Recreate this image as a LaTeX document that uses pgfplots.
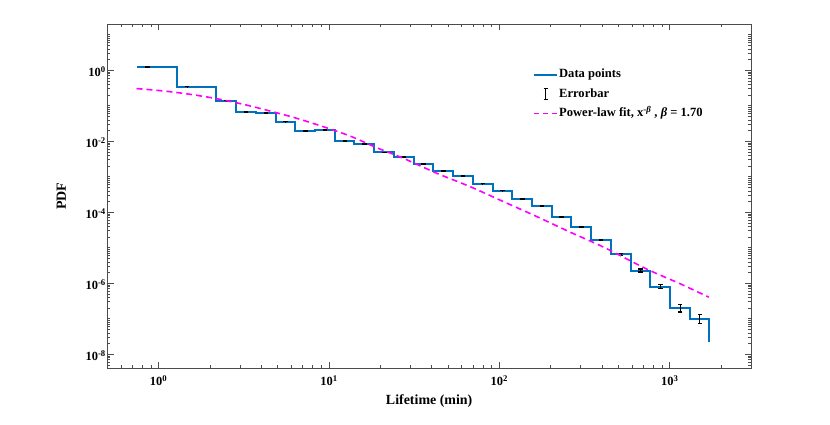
\documentclass[border=0pt]{standalone}
\usepackage{fontspec}
\setmainfont{Liberation Serif}
\usepackage{pgfplots}
\pgfplotsset{compat=1.18}
\definecolor{mblue}{rgb}{0,0.447,0.741}
\definecolor{mmag}{rgb}{1,0,1}
\definecolor{axgray}{rgb}{0.3,0.3,0.3}
\begin{document}
\begin{tikzpicture}
\useasboundingbox (0,0) rectangle (830bp,425bp);
\begin{axis}[
  at={(107.3bp,56.7bp)}, anchor=south west,
  scale only axis, width=643.7bp, height=344.3bp,
  xmode=log, ymode=log,
  xmin=0.5, xmax=3000, ymin=4e-9, ymax=20,
  xtick={1,10,100,1000},
  xticklabels={10\textsuperscript{0},10\textsuperscript{1},10\textsuperscript{2},10\textsuperscript{3}},
  minor xtick={0.6,0.7,0.8,0.9,2,3,4,5,6,7,8,9,20,30,40,50,60,70,80,90,200,300,400,500,600,700,800,900,2000,3000},
  ytick={1e-8,1e-6,1e-4,1e-2,1},
  yticklabels={10\textsuperscript{-8},10\textsuperscript{-6},10\textsuperscript{-4},10\textsuperscript{-2},10\textsuperscript{0}},
  minor ytick={5e-9,6e-9,7e-9,8e-9,9e-9,2e-8,3e-8,4e-8,5e-8,6e-8,7e-8,8e-8,9e-8,1e-7,2e-7,3e-7,4e-7,5e-7,6e-7,7e-7,8e-7,9e-7,2e-6,3e-6,4e-6,5e-6,6e-6,7e-6,8e-6,9e-6,1e-5,2e-5,3e-5,4e-5,5e-5,6e-5,7e-5,8e-5,9e-5,2e-4,3e-4,4e-4,5e-4,6e-4,7e-4,8e-4,9e-4,1e-3,2e-3,3e-3,4e-3,5e-3,6e-3,7e-3,8e-3,9e-3,2e-2,3e-2,4e-2,5e-2,6e-2,7e-2,8e-2,9e-2,1e-1,2e-1,3e-1,4e-1,5e-1,6e-1,7e-1,8e-1,9e-1,2,3,4,5,6,7,8,9,10,20},
  major tick length=6.4bp, minor tick length=3.2bp,
  tick align=inside,
  axis line style={axgray, line width=0.5bp},
  every tick/.style={axgray, line width=0.5bp},
  tick label style={font=\fontsize{12.5}{14}\selectfont\bfseries},
  xticklabel style={yshift=-4bp},
  yticklabel style={xshift=2bp, yshift=-1.5bp},
  xlabel={Lifetime (min)},
  ylabel={PDF},
  label style={font=\fontsize{14}{16}\selectfont\bfseries},
  xlabel style={at={(axis description cs:0.5,-0.095)}, anchor=center},
  ylabel style={at={(axis description cs:-0.0715,0.5)}, anchor=center},
  legend style={draw=none, fill=none, at={(axis description cs:0.6613,0.8757)}, anchor=north west,
    inner sep=0pt, row sep=3.2bp,
    nodes={inner xsep=1bp, inner ysep=2bp, text height=9bp, text depth=3bp},
    font=\fontsize{12.6}{14}\selectfont\bfseries},
  legend cell align=left,
]
\addplot[const plot, mblue, line width=2bp,
  legend image code/.code={\draw[mblue, line width=2bp] (0bp,0bp) -- (23bp,0bp);}]
coordinates {
(0.752,1.215) (1.282,0.3451) (2.185,0.1392) (2.853,0.0656) (3.725,0.06268)
(4.862,0.03566) (6.347,0.0195) (8.285,0.02081) (10.82,0.0102) (14.12,0.008233)
(18.43,0.004836) (24.06,0.003541) (31.41,0.002294) (41.01,0.001429) (53.54,0.001053)
(69.89,6.392e-4) (91.25,4.060e-4) (119.1,2.415e-4) (155.5,1.476e-4) (203.0,7.516e-5)
(265.0,3.779e-5) (345.9,1.627e-5) (451.6,6.478e-6) (589.5,2.264e-6) (769.6,8.02e-7)
(1004.6,1.976e-7) (1311.6,9.68e-8) (1712,2.265e-8)
};
\addlegendentry{Data points}
\addplot[draw=none, mark=none,
  error bars/.cd, y dir=both, y explicit,
  error bar style={draw=black, solid, line width=0.8bp},
  error mark=|,
  error mark options={draw=black, solid, mark size=2.3bp, line width=1.2bp}]
  [/pgfplots/legend image code/.code={
     \draw[black, line width=0.8bp] (11.5bp,-5.5bp) -- (11.5bp,5.5bp);
     \draw[black, line width=0.8bp] (9.5bp,-5.5bp) -- (13.5bp,-5.5bp);
     \draw[black, line width=0.8bp] (9.5bp,5.5bp) -- (13.5bp,5.5bp);}]
coordinates {
(0.861,1.215) +- (0,0.012)
(1.468,0.3451) +- (0,0.0035)
(2.502,0.1392) +- (0,0.0014)
(3.267,0.0656) +- (0,0.0007)
(4.265,0.06268) +- (0,0.0007)
(5.567,0.03566) +- (0,0.0004)
(7.267,0.0195) +- (0,0.0002)
(9.486,0.02081) +- (0,0.0002)
(12.39,0.0102) +- (0,0.0001)
(16.17,0.008233) +- (0,0.0001)
(21.10,0.004836) +- (0,0.00006)
(27.55,0.003541) +- (0,0.00004)
(35.96,0.002294) +- (0,0.00003)
(46.96,0.001429) +- (0,0.00002)
(61.30,0.001053) +- (0,0.000015)
(80.02,6.392e-4) +- (0,1.0e-5)
(104.5,4.060e-4) +- (0,7e-6)
(136.4,2.415e-4) +- (0,5e-6)
(178.0,1.476e-4) +- (0,3.5e-6)
(232.4,7.516e-5) +- (0,2e-6)
(303.4,3.779e-5) +- (0,1.2e-6)
(396.1,1.627e-5) +- (0,7e-7)
(517.1,6.478e-6) +- (0,4e-7)
(675.0,2.264e-6) += (0,2.3e-7) -= (0,2.1e-7)
(881.2,8.02e-7) += (0,1.3e-7) -= (0,1.1e-7)
(1150.3,1.976e-7) += (0,5.5e-8) -= (0,4.3e-8)
(1501.8,9.68e-8) += (0,3.4e-8) -= (0,2.5e-8)
};
\addlegendentry{Errorbar}
\addplot[mmag, line width=1.6bp, dash pattern=on 6bp off 4bp, smooth,
  legend image code/.code={\draw[mmag, line width=1.6bp, dash pattern=on 5bp off 4bp] (0bp,0bp) -- (23bp,0bp);}]
coordinates {
(0.742,0.3031) (1.0557,0.2612) (1.5155,0.2108) (2.176,0.1585) (3.120,0.1102)
(4.479,0.07139) (6.431,0.04445) (9.220,0.02578) (13.236,0.01410) (19.00,0.006603)
(27.25,0.003319) (42.83,0.001255) (67.23,5.26e-4) (105.6,1.989e-4) (166.0,7.516e-5)
(260.6,2.733e-5) (409.2,1.033e-5) (736.2,2.479e-6) (1156,9.56e-7) (1696,4.03e-7)
};
\addlegendentry{Power-law fit, x\textsuperscript{-\textit{β}} , \textit{β} = 1.70}
\end{axis}
\end{tikzpicture}
\end{document}
